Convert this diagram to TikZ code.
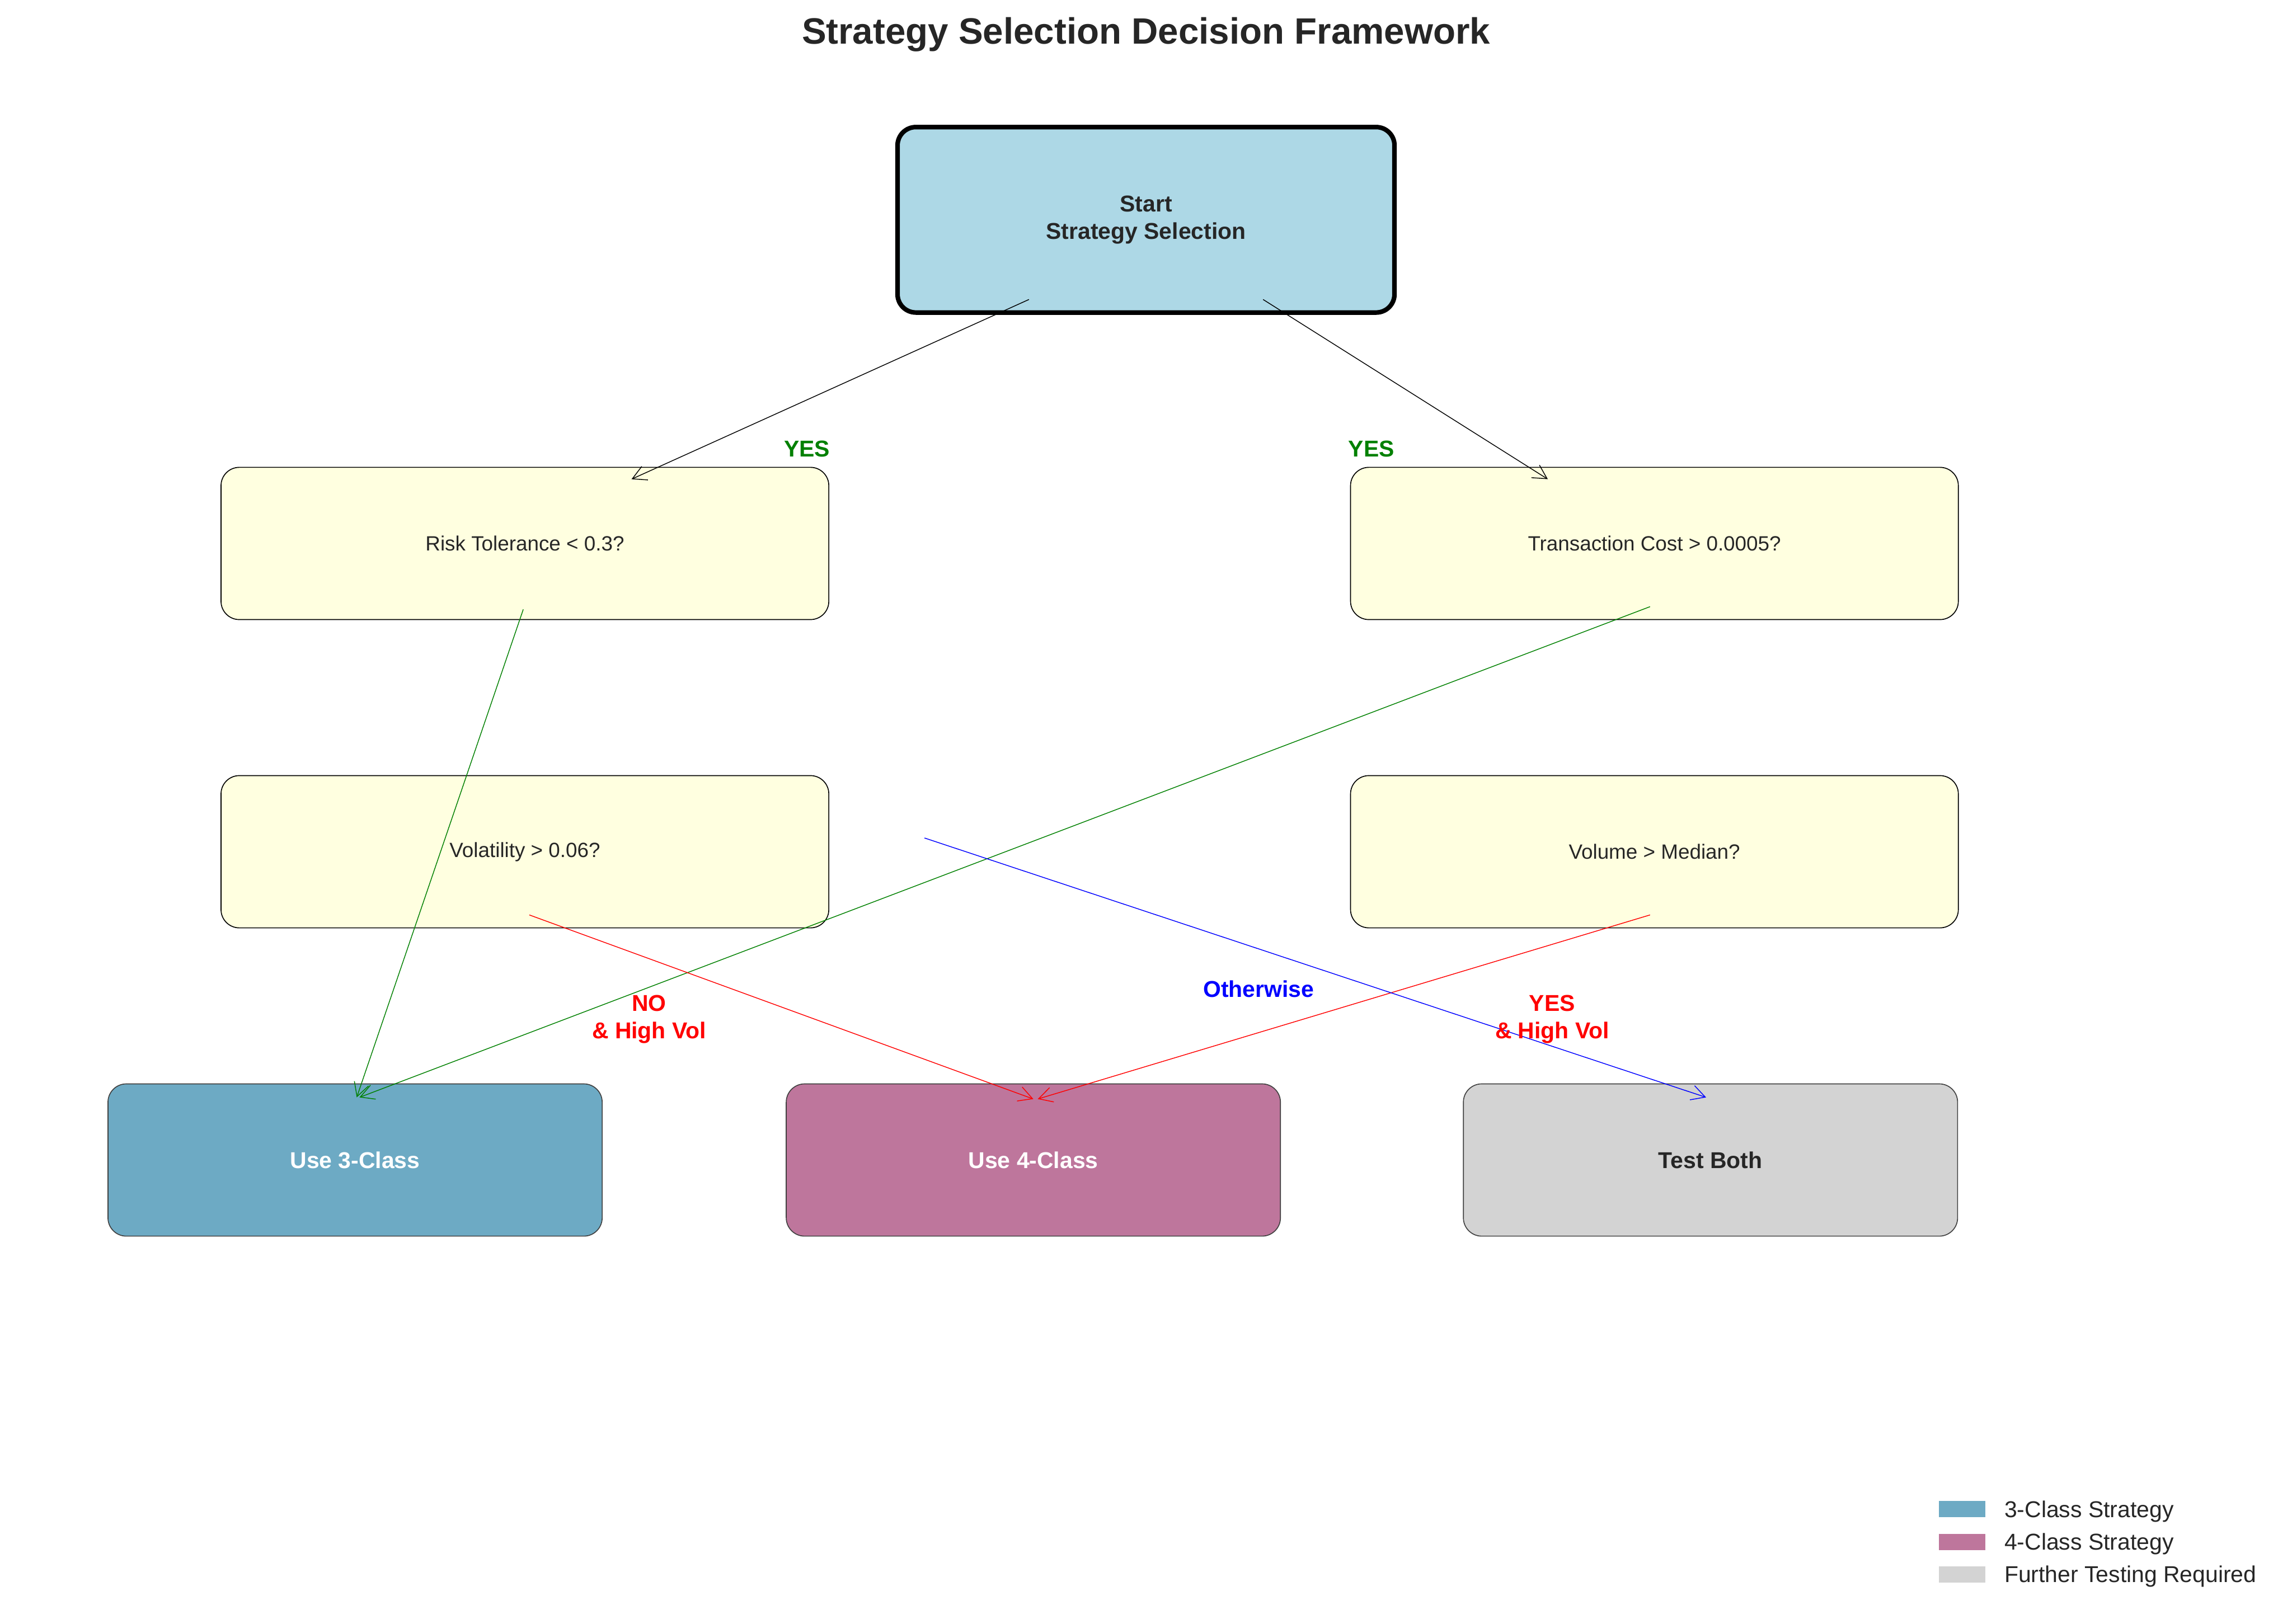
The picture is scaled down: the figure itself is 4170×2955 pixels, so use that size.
\documentclass[tikz,border=0pt]{standalone}
\usepackage{fontspec}
\setmainfont{Liberation Sans}
\usetikzlibrary{arrows.meta}
\definecolor{txt}{HTML}{262626}
\definecolor{startblue}{HTML}{ADD8E6}
\definecolor{askyellow}{HTML}{FFFFE0}
\definecolor{threeblue}{HTML}{6DAAC4}
\definecolor{fourpink}{HTML}{BE769C}
\definecolor{testgray}{HTML}{D3D3D3}
\definecolor{yesgreen}{HTML}{008000}

\begin{document}
\begin{tikzpicture}[->,>={Straight Barb[length=6pt,width=6.5pt]},x=0.24pt,y=-0.24pt,line width=0.35pt]
  \tikzstyle{ask}=[draw=black,line width=0.4pt,fill=askyellow,rounded corners=8pt,minimum width=265.4pt,minimum height=66.5pt,inner sep=0pt,text=txt,font=\fontsize{9}{11}\selectfont]
  \tikzstyle{pick}=[draw=black!75,line width=0.4pt,rounded corners=8pt,minimum width=215.8pt,minimum height=66.5pt,inner sep=0pt,font=\fontsize{10}{12}\selectfont\bfseries]
  \tikzstyle{tag}=[align=center,inner sep=0pt,font=\fontsize{10}{12}\selectfont\bfseries]
  \tikzstyle{patch}=[minimum width=20.2pt,minimum height=7pt,inner sep=0pt]
  \tikzstyle{key}=[anchor=base west,inner sep=0pt,text=txt,font=\fontsize{10}{12}\selectfont]
  \useasboundingbox (0,0) rectangle (4170,2955);
  \node[anchor=base,text=txt,font=\fontsize{16}{19}\selectfont\bfseries] (T_0) at (2085,80) {Strategy Selection Decision Framework};
  \node[draw=black,line width=2pt,fill=startblue,rounded corners=8pt,minimum width=217pt,minimum height=81pt,align=center,text=txt,font=\fontsize{10}{12}\selectfont\bfseries] (S_0) at (2085,400) {Start\\Strategy Selection};
  \node[ask] (Q_1) at (955,989)  {Risk Tolerance < 0.3?};
  \node[ask] (Q_2) at (3010,989) {Transaction Cost > 0.0005?};
  \node[ask] (Q_3) at (955,1550) {Volatility > 0.06?};
  \node[ask] (Q_4) at (3010,1550) {Volume > Median?};
  \node[pick,fill=threeblue,text=white] (C_1) at (646,2111)  {Use 3-Class};
  \node[pick,fill=fourpink,text=white]  (C_2) at (1880,2111) {Use 4-Class};
  \node[pick,fill=testgray,text=txt]    (C_3) at (3112,2111) {Test Both};
  \coordinate (M_0) at (1682,1525);

  \draw ([shift={(-213,145)}]S_0.center) -- ([shift={(194,-117)}]Q_1.center);
  \draw ([shift={(213,145)}]S_0.center) -- ([shift={(-194,-117)}]Q_2.center);
  \draw[yesgreen] ([shift={(-3,120)}]Q_1.center) -- ([shift={(3,-114)}]C_1.center);
  \draw[yesgreen] ([shift={(-8,115)}]Q_2.center) -- ([shift={(8,-114)}]C_1.center);
  \draw[red] ([shift={(8,115)}]Q_3.center) -- ([shift={(0,-111)}]C_2.center);
  \draw[red] ([shift={(-8,115)}]Q_4.center) -- ([shift={(8,-111)}]C_2.center);
  \draw[blue] (M_0) -- ([shift={(-8,-114)}]C_3.center);

  \node[tag,text=yesgreen] (Y_1) at (1468,817) {YES};
  \node[tag,text=yesgreen] (Y_2) at (2495,817) {YES};
  \node[tag,text=red] (N_1) at (1181,1855) {NO\\\& High Vol};
  \node[tag,text=blue] (O_1) at (2290,1800) {Otherwise};
  \node[tag,text=red] (Y_3) at (2824,1855) {YES\\\& High Vol};

  \node[patch,fill=threeblue] (P_1) at (3570,2746) {};
  \node[patch,fill=fourpink]  (P_2) at (3570,2806) {};
  \node[patch,fill=testgray]  (P_3) at (3570,2865) {};
  \node[key] (L_1) at (3646,2761) {3-Class Strategy};
  \node[key] (L_2) at (3646,2821) {4-Class Strategy};
  \node[key] (L_3) at (3646,2880) {Further Testing Required};
\end{tikzpicture}
\end{document}
